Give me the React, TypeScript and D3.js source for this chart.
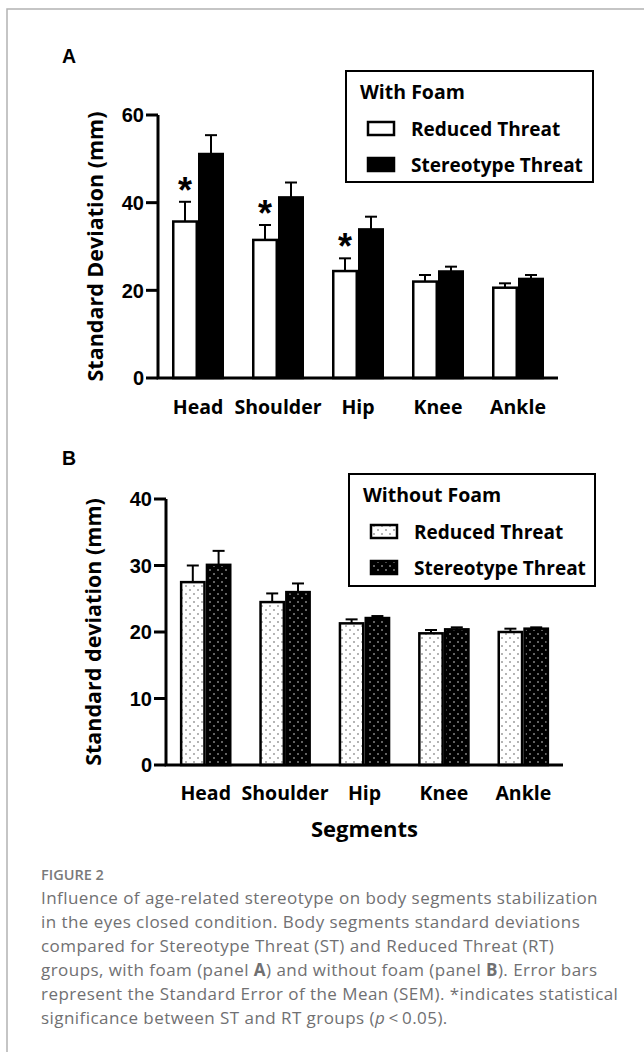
import React, { useEffect, useRef } from "react";
import * as d3 from "d3";

const W = 644;
const H = 1052;

const segments = ["Head", "Shoulder", "Hip", "Knee", "Ankle"];
const groups = ["RT", "ST"];
const groupLabels = ["Reduced Threat", "Stereotype Threat"];

// panel A, with foam
const foamRT = [35.7, 31.5, 24.4, 22.0, 20.6];
const foamRTErr = [4.5, 3.4, 2.9, 1.5, 1.0];
const foamST = [51.1, 41.2, 33.9, 24.3, 22.6];
const foamSTErr = [4.3, 3.4, 2.9, 1.1, 0.9];
const foamSig = [true, true, true, false, false];
const ticksA = [0, 20, 40, 60];

// panel B, without foam
const noFoamRT = [27.5, 24.5, 21.3, 19.8, 20.0];
const noFoamRTErr = [2.5, 1.3, 0.6, 0.5, 0.5];
const noFoamST = [30.1, 26.0, 22.1, 20.4, 20.5];
const noFoamSTErr = [2.1, 1.3, 0.3, 0.3, 0.2];
const ticksB = [0, 10, 20, 30, 40];

const captionLines = [
  "Influence of age-related stereotype on body segments stabilization",
  "in the eyes closed condition. Body segments standard deviations",
  "compared for Stereotype Threat (ST) and Reduced Threat (RT)",
];

const bold = "'Open Sans', sans-serif";
const arial = "'Liberation Sans', Arial, sans-serif";

type Panel = {
  letter: string;
  letterY: number;
  x0: number;
  x1: number;
  yTop: number;
  yZero: number;
  max: number;
  ticks: number[];
  rt: number[];
  rtErr: number[];
  st: number[];
  stErr: number[];
  sig?: boolean[];
  yLabel: string;
  labelX: number;
  tickLabelY: number;
  legendTitle: string;
  legend: { x: number; y: number; w: number; h: number };
  fills: [string, string];
};

export default function App() {
  const svgRef = useRef<SVGSVGElement>(null);

  useEffect(() => {
    const svg = d3.select(svgRef.current);
    svg.selectAll("*").remove();

    const defs = svg.append("defs");
    const pw = defs
      .append("pattern")
      .attr("id", "dotsWhite")
      .attr("patternUnits", "userSpaceOnUse")
      .attr("width", 8)
      .attr("height", 8);
    pw.append("rect").attr("width", 8).attr("height", 8).attr("fill", "#fff");
    pw.append("circle").attr("cx", 2).attr("cy", 2).attr("r", 0.7).attr("fill", "#333");
    pw.append("circle").attr("cx", 6).attr("cy", 6).attr("r", 0.7).attr("fill", "#333");
    const pb = defs
      .append("pattern")
      .attr("id", "dotsBlack")
      .attr("patternUnits", "userSpaceOnUse")
      .attr("width", 8)
      .attr("height", 8);
    pb.append("rect").attr("width", 8).attr("height", 8).attr("fill", "#000");
    pb.append("circle").attr("cx", 2).attr("cy", 2).attr("r", 0.8).attr("fill", "#ddd");
    pb.append("circle").attr("cx", 6).attr("cy", 6).attr("r", 0.8).attr("fill", "#ddd");

    // frame
    svg
      .append("path")
      .attr("d", `M7,${H} V9 H${W}`)
      .attr("fill", "none")
      .attr("stroke", "#b3b3b3")
      .attr("stroke-width", 1.5);

    const panels: Panel[] = [
      {
        letter: "A",
        letterY: 63,
        x0: 158,
        x1: 558,
        yTop: 115,
        yZero: 378,
        max: 60,
        ticks: ticksA,
        rt: foamRT,
        rtErr: foamRTErr,
        st: foamST,
        stErr: foamSTErr,
        sig: foamSig,
        yLabel: "Standard Deviation (mm)",
        labelX: 103,
        tickLabelY: 414,
        legendTitle: "With Foam",
        legend: { x: 346, y: 71, w: 247, h: 111 },
        fills: ["#fff", "#000"],
      },
      {
        letter: "B",
        letterY: 465,
        x0: 166,
        x1: 563,
        yTop: 499,
        yZero: 765,
        max: 40,
        ticks: ticksB,
        rt: noFoamRT,
        rtErr: noFoamRTErr,
        st: noFoamST,
        stErr: noFoamSTErr,
        yLabel: "Standard deviation (mm)",
        labelX: 101,
        tickLabelY: 800,
        legendTitle: "Without Foam",
        legend: { x: 349, y: 474, w: 246, h: 112 },
        fills: ["url(#dotsWhite)", "url(#dotsBlack)"],
      },
    ];

    panels.forEach((p) => {
      const g = svg.append("g");
      const x = d3
        .scaleBand()
        .domain(segments)
        .range([p.x0, p.x1])
        .paddingInner(0.35)
        .paddingOuter(0.175);
      const xs = d3.scaleBand().domain(groups).range([0, x.bandwidth()]);
      const y = d3.scaleLinear().domain([0, p.max]).range([p.yZero, p.yTop]);

      g.append("text")
        .attr("x", 62)
        .attr("y", p.letterY)
        .attr("font-family", arial)
        .attr("font-weight", 700)
        .attr("font-size", 19.5)
        .text(p.letter);

      // bars
      const series = [
        { key: "RT", vals: p.rt, errs: p.rtErr, fill: p.fills[0] },
        { key: "ST", vals: p.st, errs: p.stErr, fill: p.fills[1] },
      ];
      series.forEach((s) => {
        segments.forEach((seg, i) => {
          const bx = (x(seg) || 0) + (xs(s.key) || 0);
          const bw = xs.bandwidth();
          const cx = bx + bw / 2;
          const top = y(s.vals[i] + s.errs[i]);
          g.append("line")
            .attr("x1", cx)
            .attr("x2", cx)
            .attr("y1", y(s.vals[i]))
            .attr("y2", top)
            .attr("stroke", "#000")
            .attr("stroke-width", 2);
          g.append("line")
            .attr("x1", cx - 6)
            .attr("x2", cx + 6)
            .attr("y1", top)
            .attr("y2", top)
            .attr("stroke", "#000")
            .attr("stroke-width", 2);
          g.append("rect")
            .attr("x", bx + 1.25)
            .attr("y", y(s.vals[i]))
            .attr("width", bw - 2.5)
            .attr("height", y(0) - y(s.vals[i]))
            .attr("fill", s.fill)
            .attr("stroke", "#000")
            .attr("stroke-width", 2.5);
          if (s.key === "RT" && p.sig && p.sig[i]) {
            g.append("text")
              .attr("x", cx)
              .attr("y", top + 1)
              .attr("text-anchor", "middle")
              .attr("font-family", arial)
              .attr("font-weight", 700)
              .attr("font-size", 36)
              .text("*");
          }
        });
      });

      // axes
      g.append("path")
        .attr("d", `M${p.x0},${p.yTop} V${p.yZero} H${p.x1}`)
        .attr("fill", "none")
        .attr("stroke", "#000")
        .attr("stroke-width", 3);
      p.ticks.forEach((t) => {
        g.append("line")
          .attr("x1", p.x0 - 12)
          .attr("x2", p.x0)
          .attr("y1", y(t))
          .attr("y2", y(t))
          .attr("stroke", "#000")
          .attr("stroke-width", 3);
        g.append("text")
          .attr("x", p.x0 - 14)
          .attr("y", y(t))
          .attr("dy", "0.36em")
          .attr("text-anchor", "end")
          .attr("font-family", arial)
          .attr("font-weight", 700)
          .attr("font-size", 20)
          .text(t);
      });
      segments.forEach((seg) => {
        g.append("text")
          .attr("x", (x(seg) || 0) + x.bandwidth() / 2)
          .attr("y", p.tickLabelY)
          .attr("text-anchor", "middle")
          .attr("font-family", bold)
          .attr("font-weight", 700)
          .attr("font-size", 19.5)
          .text(seg);
      });
      g.append("text")
        .attr(
          "transform",
          `translate(${p.labelX},${(p.yTop + p.yZero) / 2}) rotate(-90)`
        )
        .attr("text-anchor", "middle")
        .attr("font-family", bold)
        .attr("font-weight", 700)
        .attr("font-size", 21.5)
        .text(p.yLabel);

      // legend
      const L = p.legend;
      g.append("rect")
        .attr("x", L.x)
        .attr("y", L.y)
        .attr("width", L.w)
        .attr("height", L.h)
        .attr("fill", "#fff")
        .attr("stroke", "#000")
        .attr("stroke-width", 2);
      g.append("text")
        .attr("x", L.x + 14)
        .attr("y", L.y + 28)
        .attr("font-family", bold)
        .attr("font-weight", 700)
        .attr("font-size", 19.5)
        .text(p.legendTitle);
      groupLabels.forEach((lab, i) => {
        const ly = L.y + 65 + i * 36;
        g.append("rect")
          .attr("x", L.x + 22)
          .attr("y", ly - 14)
          .attr("width", 26)
          .attr("height", 13)
          .attr("fill", p.fills[i])
          .attr("stroke", "#000")
          .attr("stroke-width", 2.5);
        g.append("text")
          .attr("x", L.x + 65)
          .attr("y", ly)
          .attr("font-family", bold)
          .attr("font-weight", 700)
          .attr("font-size", 19)
          .text(lab);
      });
    });

    svg
      .append("text")
      .attr("x", 364.5)
      .attr("y", 837)
      .attr("text-anchor", "middle")
      .attr("font-family", bold)
      .attr("font-weight", 700)
      .attr("font-size", 22)
      .text("Segments");

    // caption
    const cap = svg
      .append("g")
      .attr("font-family", "'Open Sans', sans-serif")
      .attr("fill", "#707072");
    cap
      .append("text")
      .attr("x", 41)
      .attr("y", 880)
      .attr("font-size", 14.5)
      .attr("font-weight", 600)
      .attr("fill", "#7a7a7a")
      .text("FIGURE 2");
    const lineY = (i: number) => 904 + i * 24;
    const fs = 17;
    const ls = 0.45;
    captionLines.forEach((l, i) => {
      cap
        .append("text")
        .attr("x", 41)
        .attr("y", lineY(i))
        .attr("font-size", fs)
        .attr("letter-spacing", ls)
        .text(l);
    });
    const t4 = cap
      .append("text")
      .attr("x", 41)
      .attr("y", lineY(3))
      .attr("font-size", fs)
      .attr("letter-spacing", ls);
    t4.append("tspan").text("groups, with foam (panel ");
    t4.append("tspan").attr("font-weight", 700).text("A");
    t4.append("tspan").text(") and without foam (panel ");
    t4.append("tspan").attr("font-weight", 700).text("B");
    t4.append("tspan").text("). Error bars");
    cap
      .append("text")
      .attr("x", 41)
      .attr("y", lineY(4))
      .attr("font-size", fs)
      .attr("letter-spacing", ls)
      .text("represent the Standard Error of the Mean (SEM). *indicates statistical");
    const t6 = cap
      .append("text")
      .attr("x", 41)
      .attr("y", lineY(5))
      .attr("font-size", fs)
      .attr("letter-spacing", ls);
    t6.append("tspan").text("significance between ST and RT groups (");
    t6.append("tspan").attr("font-style", "italic").text("p");
    t6.append("tspan").text("\u2009<\u20090.05).");
  }, []);

  return (
    <svg
      ref={svgRef}
      width={W}
      height={H}
      style={{ position: "absolute", top: 0, left: 0, background: "#fff" }}
    ></svg>
  );
}
